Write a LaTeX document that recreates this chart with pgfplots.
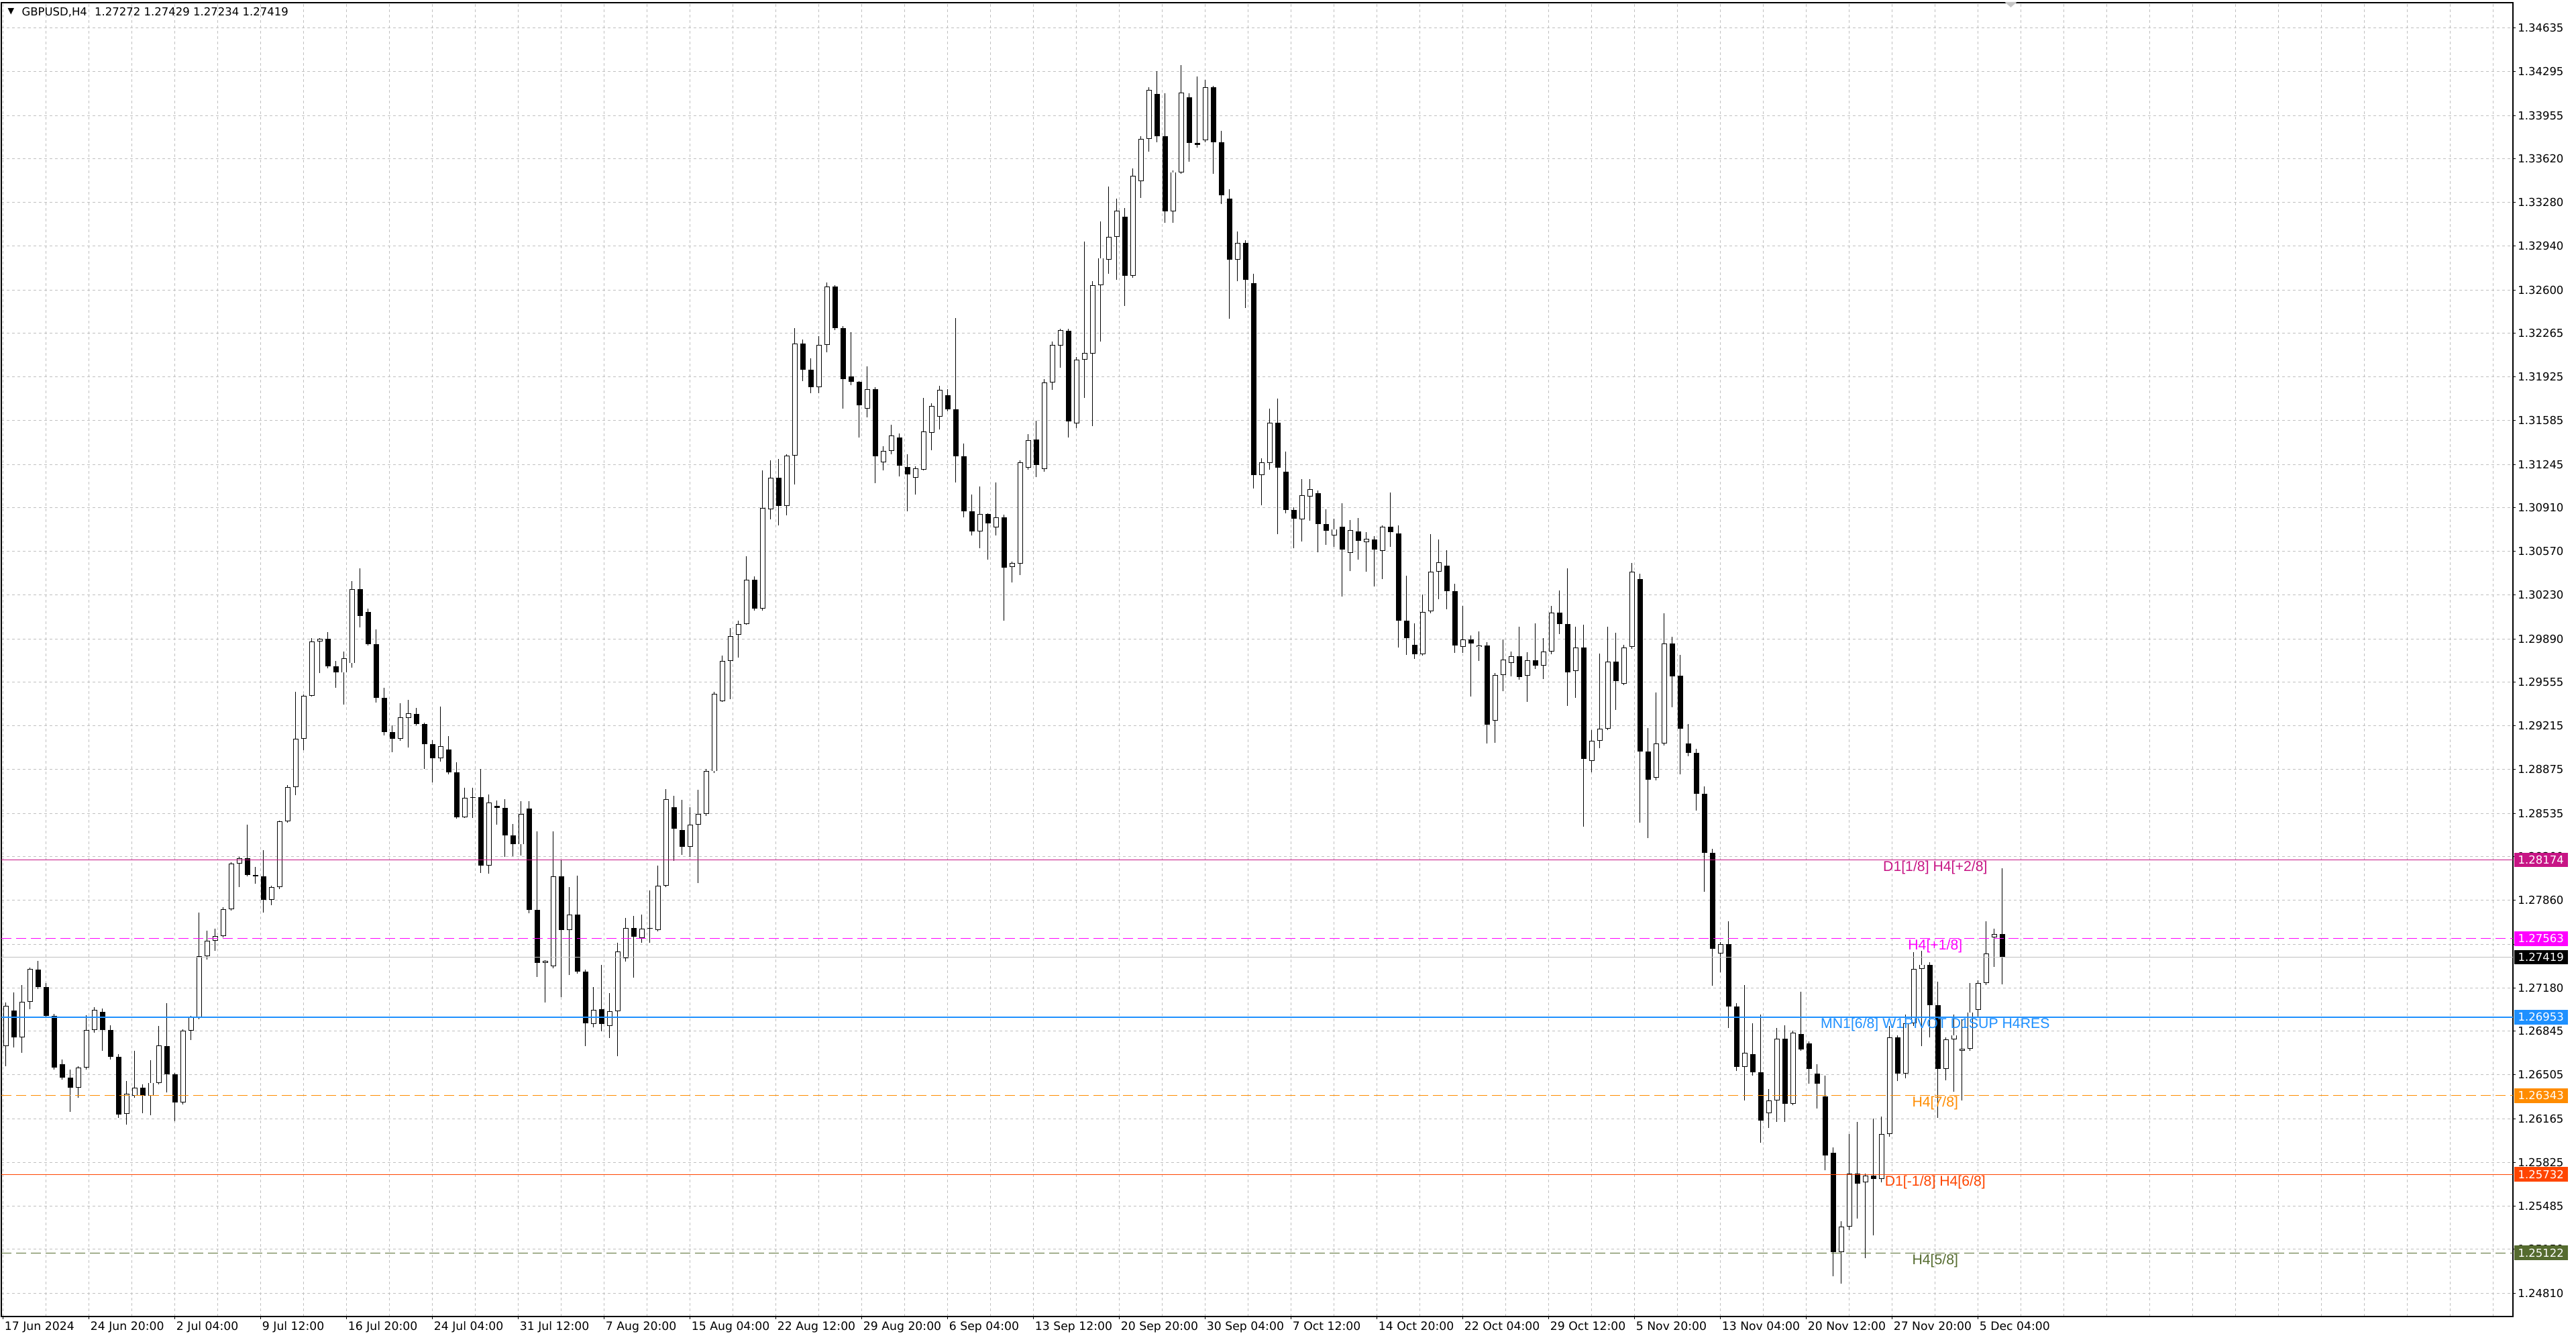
\documentclass[border=0pt]{standalone}
\usepackage{pgfplots}
\pgfplotsset{compat=1.18}
\usepackage{pgfplotstable}
\usepackage{fontspec}
\setmainfont{Liberation Sans}
\newfontfamily\dvs{DejaVu Sans}
\definecolor{lvlA}{HTML}{C71585}
\definecolor{lvlB}{HTML}{FF00FF}
\definecolor{lvlC}{HTML}{1E90FF}
\definecolor{lvlD}{HTML}{FF8C00}
\definecolor{lvlE}{HTML}{FF4500}
\definecolor{lvlF}{HTML}{556B2F}
\definecolor{gridc}{HTML}{C0C0C0}
\definecolor{curc}{HTML}{C0C0C0}

% 3-bar (12h) candles: open high low close
\pgfplotstableread{
o h l c
1.26729 1.27067 1.26574 1.27041
1.27002 1.27145 1.26716 1.26794
1.26794 1.27202 1.26677 1.27072
1.27072 1.27339 1.27015 1.27326
1.27321 1.27391 1.27171 1.27184
1.27184 1.27217 1.26950 1.26963
1.26963 1.26976 1.26548 1.26561
1.26587 1.26626 1.26470 1.26483
1.26483 1.26548 1.26216 1.26405
1.26405 1.26574 1.26327 1.26561
1.26561 1.26968 1.26548 1.26854
1.26854 1.27028 1.26833 1.27010
1.26994 1.27020 1.26690 1.26854
1.26854 1.26890 1.26626 1.26646
1.26646 1.26665 1.26171 1.26197
1.26202 1.26457 1.26120 1.26358
1.26345 1.26690 1.26327 1.26405
1.26405 1.26431 1.26205 1.26345
1.26345 1.26620 1.26190 1.26444
1.26444 1.26885 1.26431 1.26735
1.26729 1.27062 1.26366 1.26509
1.26509 1.26522 1.26146 1.26288
1.26288 1.26859 1.26275 1.26846
1.26846 1.26963 1.26776 1.26950
1.26950 1.27767 1.26937 1.27425
1.27425 1.27625 1.27399 1.27547
1.27547 1.27638 1.27469 1.27581
1.27581 1.27806 1.27573 1.27793
1.27793 1.28157 1.27780 1.28144
1.28144 1.28196 1.27962 1.28188
1.28188 1.28447 1.28048 1.28058
1.28058 1.28118 1.27988 1.28048
1.28048 1.28247 1.27767 1.27863
1.27863 1.27975 1.27824 1.27962
1.27962 1.28481 1.27949 1.28473
1.28473 1.28753 1.28463 1.28741
1.28741 1.29480 1.28676 1.29117
1.29117 1.29459 1.29026 1.29449
1.29449 1.29895 1.29441 1.29869
1.29869 1.29895 1.29623 1.29890
1.29890 1.29942 1.29662 1.29675
1.29675 1.29720 1.29510 1.29628
1.29628 1.29791 1.29379 1.29738
1.29701 1.30337 1.29667 1.30279
1.30279 1.30436 1.29982 1.30069
1.30100 1.30127 1.29838 1.29851
1.29851 1.29964 1.29397 1.29431
1.29431 1.29510 1.29142 1.29169
1.29169 1.29221 1.29011 1.29116
1.29116 1.29392 1.29098 1.29281
1.29274 1.29418 1.29045 1.29313
1.29308 1.29352 1.29221 1.29229
1.29229 1.29240 1.28880 1.29071
1.29071 1.29103 1.28775 1.28966
1.28966 1.29365 1.28940 1.29056
1.29029 1.29134 1.28840 1.28854
1.28854 1.28932 1.28494 1.28504
1.28504 1.28735 1.28499 1.28657
1.28657 1.28735 1.28499 1.28662
1.28662 1.28880 1.28074 1.28132
1.28132 1.28683 1.28066 1.28617
1.28591 1.28636 1.28447 1.28578
1.28578 1.28644 1.28197 1.28363
1.28363 1.28452 1.28205 1.28294
1.28294 1.28630 1.28210 1.28531
1.28573 1.28630 1.27759 1.27785
1.27785 1.28394 1.27265 1.27376
1.27376 1.27397 1.27069 1.27391
1.27349 1.28394 1.27331 1.28048
1.28048 1.28171 1.27108 1.27628
1.27628 1.27961 1.27279 1.27751
1.27751 1.28053 1.27292 1.27305
1.27305 1.27320 1.26727 1.26903
1.26898 1.27187 1.26872 1.27008
1.27016 1.27357 1.26845 1.26898
1.26885 1.27139 1.26793 1.26998
1.26998 1.27528 1.26649 1.27462
1.27410 1.27725 1.27384 1.27646
1.27646 1.27738 1.27260 1.27580
1.27567 1.27751 1.27528 1.27638
1.27638 1.27935 1.27528 1.27645
1.27628 1.28132 1.27620 1.27974
1.27974 1.28722 1.27961 1.28644
1.28584 1.28673 1.28168 1.28414
1.28404 1.28641 1.28215 1.28278
1.28278 1.28584 1.28199 1.28446
1.28446 1.28720 1.27994 1.28531
1.28531 1.28878 1.28515 1.28862
1.28862 1.29478 1.28847 1.29462
1.29406 1.29762 1.29399 1.29721
1.29721 1.29974 1.29424 1.29911
1.29920 1.30031 1.29747 1.30006
1.30006 1.30530 1.30000 1.30347
1.30347 1.30378 1.30110 1.30126
1.30126 1.31199 1.30110 1.30909
1.30899 1.31278 1.30820 1.31142
1.31142 1.31288 1.30773 1.30921
1.30921 1.31326 1.30852 1.31313
1.31313 1.32305 1.31089 1.32185
1.32185 1.32216 1.31894 1.31982
1.31982 1.32068 1.31799 1.31847
1.31847 1.32241 1.31799 1.32172
1.32172 1.32658 1.32115 1.32627
1.32627 1.32636 1.32289 1.32305
1.32305 1.32320 1.31679 1.31910
1.31926 1.32273 1.31862 1.31888
1.31888 1.31894 1.31452 1.31705
1.31679 1.32005 1.31610 1.31831
1.31831 1.31847 1.31098 1.31310
1.31262 1.31389 1.31199 1.31348
1.31348 1.31553 1.31326 1.31468
1.31452 1.31483 1.31152 1.31237
1.31225 1.31326 1.30883 1.31168
1.31142 1.31231 1.31010 1.31215
1.31206 1.31761 1.31199 1.31499
1.31490 1.31720 1.31357 1.31698
1.31616 1.31856 1.31515 1.31825
1.31783 1.31831 1.31657 1.31673
1.31673 1.32384 1.31105 1.31310
1.31310 1.31405 1.30836 1.30883
1.30883 1.31010 1.30694 1.30726
1.30726 1.31073 1.30593 1.30858
1.30858 1.30868 1.30504 1.30789
1.30757 1.31105 1.30694 1.30836
1.30836 1.30855 1.30031 1.30444
1.30450 1.30488 1.30327 1.30479
1.30474 1.31278 1.30386 1.31263
1.31219 1.31482 1.31205 1.31433
1.31439 1.31585 1.31146 1.31240
1.31211 1.31906 1.31190 1.31883
1.31883 1.32199 1.31824 1.32175
1.32170 1.32301 1.31994 1.32287
1.32281 1.32301 1.31453 1.31579
1.31562 1.32082 1.31526 1.32058
1.32058 1.32974 1.31760 1.32111
1.32105 1.32667 1.31541 1.32637
1.32637 1.33134 1.32199 1.32848
1.32836 1.33403 1.32725 1.33012
1.33012 1.33310 1.32681 1.33216
1.33170 1.33237 1.32477 1.32710
1.32710 1.33544 1.32696 1.33485
1.33447 1.33792 1.33316 1.33772
1.33772 1.34173 1.33675 1.34152
1.34123 1.34298 1.33749 1.33792
1.33792 1.34129 1.33120 1.33208
1.33208 1.33529 1.33120 1.33515
1.33515 1.34345 1.33500 1.34134
1.34094 1.34129 1.33596 1.33743
1.33743 1.34260 1.33705 1.33725
1.33763 1.34231 1.33749 1.34172
1.34172 1.34187 1.33500 1.33749
1.33749 1.33836 1.33266 1.33333
1.33310 1.33383 1.32374 1.32836
1.32836 1.33053 1.32667 1.32965
1.32965 1.32988 1.32462 1.32681
1.32652 1.32725 1.31058 1.31161
1.31161 1.31292 1.30927 1.31263
1.31257 1.31678 1.31205 1.31570
1.31570 1.31754 1.30702 1.31219
1.31190 1.31345 1.30868 1.30889
1.30889 1.30912 1.30596 1.30825
1.30819 1.31132 1.30649 1.31006
1.30994 1.31132 1.30810 1.31053
1.31023 1.31044 1.30561 1.30781
1.30781 1.30898 1.30620 1.30731
1.30693 1.30825 1.30605 1.30743
1.30760 1.30942 1.30218 1.30585
1.30560 1.30811 1.30416 1.30733
1.30725 1.30828 1.30507 1.30651
1.30643 1.30719 1.30410 1.30667
1.30663 1.30688 1.30296 1.30585
1.30575 1.30770 1.30354 1.30760
1.30760 1.31028 1.30605 1.30719
1.30708 1.30770 1.29822 1.30033
1.30033 1.30379 1.29765 1.29895
1.29843 1.30012 1.29736 1.29771
1.29771 1.30235 1.29760 1.30101
1.30107 1.30704 1.30090 1.30410
1.30410 1.30663 1.30197 1.30486
1.30461 1.30581 1.30121 1.30259
1.30259 1.30317 1.29781 1.29839
1.29827 1.30148 1.29781 1.29888
1.29888 1.29915 1.29441 1.29853
1.29827 1.29950 1.29719 1.29839
1.29839 1.29864 1.29077 1.29225
1.29256 1.29627 1.29085 1.29612
1.29612 1.29884 1.29482 1.29730
1.29703 1.29792 1.29600 1.29757
1.29757 1.29987 1.29575 1.29596
1.29606 1.29785 1.29400 1.29724
1.29724 1.30012 1.29658 1.29682
1.29682 1.29895 1.29579 1.29792
1.29792 1.30148 1.29771 1.30094
1.30094 1.30265 1.29930 1.30004
1.30004 1.30436 1.29369 1.29633
1.29641 1.29987 1.29431 1.29822
1.29822 1.30002 1.28432 1.28957
1.28941 1.29180 1.28854 1.29097
1.29097 1.29777 1.29044 1.29194
1.29194 1.29987 1.29184 1.29715
1.29715 1.29936 1.29338 1.29565
1.29544 1.29843 1.29534 1.29822
1.29827 1.30478 1.29812 1.30410
1.30354 1.30399 1.28463 1.29015
1.29015 1.29200 1.28343 1.28796
1.28813 1.29472 1.28792 1.29077
1.29077 1.30090 1.29060 1.29853
1.29853 1.29905 1.29359 1.29600
1.29605 1.29767 1.28840 1.29192
1.29076 1.29228 1.28981 1.29006
1.29006 1.29034 1.28558 1.28689
1.28689 1.28745 1.27924 1.28231
1.28231 1.28259 1.27195 1.27484
1.27449 1.27537 1.27301 1.27519
1.27519 1.27695 1.26867 1.27033
1.27033 1.27061 1.26533 1.26568
1.26568 1.27202 1.26304 1.26674
1.26667 1.26903 1.26497 1.26526
1.26526 1.26973 1.25976 1.26152
1.26209 1.26392 1.26092 1.26304
1.26304 1.26867 1.26138 1.26786
1.26786 1.26892 1.26138 1.26279
1.26279 1.26850 1.26268 1.26832
1.26822 1.27149 1.26691 1.26702
1.26751 1.26762 1.26434 1.26550
1.26515 1.26585 1.26244 1.26434
1.26339 1.26497 1.25765 1.25881
1.25898 1.25941 1.24940 1.25130
1.25130 1.25370 1.24884 1.25328
1.25328 1.26046 1.25300 1.25740
1.25740 1.26138 1.25388 1.25659
1.25669 1.25740 1.25081 1.25722
1.25722 1.26163 1.25257 1.25694
1.25694 1.26180 1.25669 1.26046
1.26046 1.26885 1.26022 1.26797
1.26797 1.26814 1.26455 1.26515
1.26515 1.26973 1.26480 1.26903
1.26903 1.27456 1.26885 1.27325
1.27325 1.27466 1.26726 1.27361
1.27361 1.27378 1.26797 1.27044
1.27044 1.27230 1.26173 1.26550
1.26550 1.26797 1.26463 1.26779
1.26779 1.26973 1.26374 1.26814
1.26691 1.26938 1.26304 1.26709
1.26709 1.27220 1.26691 1.26991
1.27008 1.27237 1.26955 1.27220
1.27220 1.27695 1.27202 1.27449
1.27572 1.27642 1.27343 1.27597
1.27597 1.28111 1.27209 1.27419
}\candles

\begin{document}
\begin{tikzpicture}
\useasboundingbox (0,0) rectangle (1536pt,798.4pt);
\begin{axis}[
  at={(0.8pt,13.6pt)}, anchor=south west,
  scale only axis, width=1497.6pt, height=783.2pt,
  xmin=-0.75, xmax=935.25, ymin=1.24628, ymax=1.34831,
  axis line style={black, line width=0.8pt},
  xtick={0,32,...,736},
  xticklabels={17 Jun 2024,24 Jun 20:00,2 Jul 04:00,9 Jul 12:00,16 Jul 20:00,24 Jul 04:00,31 Jul 12:00,7 Aug 20:00,15 Aug 04:00,22 Aug 12:00,29 Aug 20:00,6 Sep 04:00,13 Sep 12:00,20 Sep 20:00,30 Sep 04:00,7 Oct 12:00,14 Oct 20:00,22 Oct 04:00,29 Oct 12:00,5 Nov 20:00,13 Nov 04:00,20 Nov 12:00,27 Nov 20:00,5 Dec 04:00},
  minor xtick={0,16,...,928},
  ytick={1.24810,1.25150,1.25485,1.25825,1.26165,1.26505,1.26845,1.27180,1.27520,1.27860,1.28200,1.28535,1.28875,1.29215,1.29555,1.29890,1.30230,1.30570,1.30910,1.31245,1.31585,1.31925,1.32265,1.32600,1.32940,1.33280,1.33620,1.33955,1.34295,1.34635},
  yticklabels={1.24810,1.25150,1.25485,1.25825,1.26165,1.26505,1.26845,1.27180,{},1.27860,1.28200,1.28535,1.28875,1.29215,1.29555,1.29890,1.30230,1.30570,1.30910,1.31245,1.31585,1.31925,1.32265,1.32600,1.32940,1.33280,1.33620,1.33955,1.34295,1.34635},
  xtick pos=left, ytick pos=right, yticklabel pos=right,
  tick align=outside, major tick length=1.6pt, minor tick length=0pt,
  tick style={black, line width=0.4pt},
  xminorgrids=true, xmajorgrids=false, ymajorgrids=true,
  major grid style={gridc, line width=0.4pt, dash pattern=on 1.6pt off 1.6pt},
  minor grid style={gridc, line width=0.4pt, dash pattern=on 1.6pt off 1.6pt},
  xticklabel style={font=\dvs\fontsize{6.9}{7}\selectfont, anchor=north west, inner sep=0pt, xshift=0.6pt, yshift=-1.2pt},
  yticklabel style={font=\dvs\fontsize{6.6}{7}\selectfont, anchor=west, inner sep=0pt, xshift=1.2pt},
  clip mode=individual,
  candle/.style={draw=none, mark=none, forget plot,
    error bars/.cd, y dir=plus, y explicit, error mark=none},
]
% wicks
\addplot[candle, error bar style={draw=black, line width=0.4pt}]
  table[x expr=3*\coordindex+1, y=l, y error expr=\thisrow{h}-\thisrow{l}] {\candles};
% bearish bodies
\addplot[candle, error bar style={draw=black, line width=3.2pt}]
  table[x expr=3*\coordindex+1, y=c, y error expr={max(\thisrow{o}-\thisrow{c},0)}] {\candles};
% bullish bodies (outline + white fill)
\addplot[candle, error bar style={draw=black, line width=3.2pt}]
  table[x expr=3*\coordindex+1, y=o, y error expr={max(\thisrow{c}-\thisrow{o},0)}] {\candles};
\addplot[candle, error bar style={draw=white, line width=2.4pt}]
  table[x expr=3*\coordindex+1, y expr=\thisrow{o}+0.00005, y error expr={max(\thisrow{c}-\thisrow{o}-0.0001,0)}] {\candles};
% level lines
\addplot[lvlA, line width=0.4pt] coordinates {(-0.75,1.28174) (935.25,1.28174)};
\addplot[lvlB, line width=0.4pt, dash pattern=on 6pt off 2.8pt] coordinates {(-0.75,1.27563) (935.25,1.27563)};
\addplot[curc, line width=0.4pt] coordinates {(-0.75,1.27419) (935.25,1.27419)};
\addplot[lvlC, line width=0.8pt] coordinates {(-0.75,1.26953) (935.25,1.26953)};
\addplot[lvlD, line width=0.4pt, dash pattern=on 6pt off 2.8pt] coordinates {(-0.75,1.26343) (935.25,1.26343)};
\addplot[lvlE, line width=0.4pt] coordinates {(-0.75,1.25732) (935.25,1.25732)};
\addplot[lvlF, line width=0.4pt, dash pattern=on 6pt off 2.8pt] coordinates {(-0.75,1.25122) (935.25,1.25122)};
% level labels
\begin{scope}[every node/.style={font=\fontsize{8.5}{9}\selectfont, inner sep=0pt, yshift=-4.6pt}]
\node[text=lvlA] at (axis cs:720,1.28174) {D1[1/8] H4[+2/8]};
\node[text=lvlB] at (axis cs:720,1.27563) {H4[+1/8]};
\node[text=lvlC] at (axis cs:720,1.26953) {MN1[6/8] W1PIVOT D1SUP H4RES};
\node[text=lvlD] at (axis cs:720,1.26343) {H4[7/8]};
\node[text=lvlE] at (axis cs:720,1.25732) {D1[-1/8] H4[6/8]};
\node[text=lvlF] at (axis cs:720,1.25122) {H4[5/8]};
\end{scope}
\coordinate (bA) at (axis cs:935.25,1.28174);
\coordinate (bB) at (axis cs:935.25,1.27563);
\coordinate (bK) at (axis cs:935.25,1.27419);
\coordinate (bC) at (axis cs:935.25,1.26953);
\coordinate (bD) at (axis cs:935.25,1.26343);
\coordinate (bE) at (axis cs:935.25,1.25732);
\coordinate (bF) at (axis cs:935.25,1.25122);
\end{axis}
% price boxes on the right scale
\begin{scope}[every node/.style={anchor=west, text=white, font=\dvs\fontsize{6.6}{7}\selectfont, minimum width=32pt, minimum height=8.6pt, inner sep=0pt, xshift=0.6pt}]
\node[fill=lvlA] at (bA) {1.28174};
\node[fill=lvlB] at (bB) {1.27563};
\node[fill=black] at (bK) {1.27419};
\node[fill=lvlC] at (bC) {1.26953};
\node[fill=lvlD] at (bD) {1.26343};
\node[fill=lvlE] at (bE) {1.25732};
\node[fill=lvlF] at (bF) {1.25122};
\end{scope}
% title
\node[anchor=center, inner sep=0pt, font=\dvs\fontsize{5}{5}\selectfont] at (6.6pt,791.4pt) {▼};
\node[anchor=west, inner sep=0pt, font=\dvs\fontsize{6.6}{7}\selectfont] at (12.8pt,791.2pt) {GBPUSD,H4\hspace{4.5pt}1.27272 1.27429 1.27234 1.27419};
% chart shift marker
\fill[gray!45] (1195.4pt,797.2pt) -- (1202.6pt,797.2pt) -- (1199pt,794pt) -- cycle;
\end{tikzpicture}
\end{document}
